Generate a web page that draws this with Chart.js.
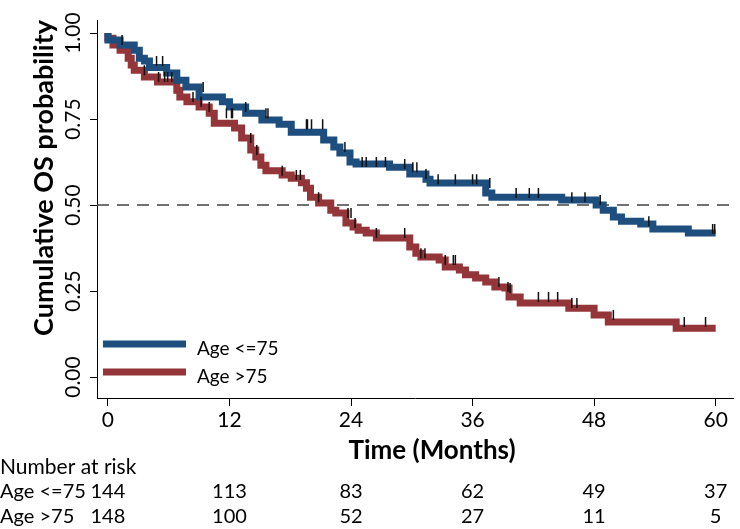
<!DOCTYPE html>
<html><head><meta charset="utf-8">
<script src="https://cdn.jsdelivr.net/npm/chart.js@4/dist/chart.umd.min.js"></script>
<style>html,body{margin:0;padding:0;background:#fff}#wrap{width:740px;height:529px;position:relative}</style>
</head><body><div id="wrap"><canvas id="c"></canvas></div>
<script>
const xTickValues = [0, 12, 24, 36, 48, 60];
const yTickValues = [0, 0.25, 0.5, 0.75, 1];
const yTickLabels = ['0.00', '0.25', '0.50', '0.75', '1.00'];
const seriesNames = ['Age <=75', 'Age >75'];
const xTitle = 'Time (Months)';
const yTitle = 'Cumulative OS probability';
const riskTitle = 'Number at risk';

const lowTimes = [0,1.2,2.6,3.1,3.6,4.1,5.8,6.8,7.7,9.0,11.3,12.0,13.6,15.2,16.9,18.1,21.3,22.3,22.9,23.9,24.5,27.8,29.8,31.4,31.8,37.3,37.9,44.8,48.2,48.9,49.9,50.7,52.6,53.8,57.3,60.0];
const lowSurv = [1.0,0.98,0.965,0.95,0.927,0.919,0.90,0.884,0.863,0.843,0.814,0.80,0.785,0.767,0.747,0.735,0.712,0.689,0.669,0.651,0.625,0.619,0.61,0.59,0.575,0.564,0.535,0.523,0.515,0.50,0.485,0.465,0.453,0.445,0.43,0.419];
const lowCensorTimes = [1.4,4.8,5.4,9.4,13.6,15.6,15.8,19.6,19.7,20.1,21.2,23.4,25.1,25.5,26.5,27.4,29.3,30.1,30.5,31.4,32.6,34.3,36.0,36.4,37.7,40.3,41.6,42.5,45.8,47.1,48.6,53.4,59.7,59.9];

const highTimes = [0,0.5,1.2,2.0,2.3,2.6,3.6,4.9,6.8,7.1,7.8,9.0,10.0,10.5,12.5,13.2,14.1,14.6,15.1,15.6,17.2,18.1,19.1,19.6,20.0,20.8,22.0,22.5,23.5,24.2,24.7,25.5,26.5,29.8,30.4,30.9,32.7,33.3,34.7,35.3,36.3,37.3,38.2,39.2,39.6,40.7,45.5,48.0,49.4,56.1,60.0];
const highSurv = [1.0,0.985,0.965,0.95,0.927,0.907,0.892,0.872,0.858,0.834,0.814,0.80,0.785,0.767,0.738,0.724,0.695,0.66,0.64,0.616,0.60,0.587,0.578,0.565,0.549,0.523,0.506,0.485,0.477,0.448,0.436,0.427,0.419,0.404,0.378,0.36,0.349,0.34,0.32,0.311,0.297,0.288,0.276,0.262,0.259,0.233,0.215,0.20,0.18,0.16,0.142];
const highCensorTimes = [3.6,5.0,5.6,5.9,6.3,8.4,9.2,10.0,11.7,12.2,12.3,14.1,14.7,17.2,18.6,19.0,20.8,23.7,24.0,24.4,26.5,29.3,30.9,31.3,33.3,34.1,34.3,38.6,39.5,39.7,42.5,43.5,44.4,45.8,46.3,49.9,56.9,59.0];

const riskTimes = [0, 12, 24, 36, 48, 60];
const riskLow = [144, 113, 83, 62, 49, 37];
const riskHigh = [148, 100, 52, 27, 11, 5];
const medianLevel = 0.5;

const X_MIN = -1.078, X_MAX = 61.76, Y_MIN = -0.061, Y_MAX = 1.038;
const BLUE = '#1d4e7e', RED = '#943539';
const FONT = "Lato, 'Liberation Sans', sans-serif";

function survAt(times, surv, t) {
  let v = surv[0];
  for (let i = 0; i < times.length; i++) { if (times[i] <= t) v = surv[i]; }
  return v;
}
const pts = (ts, ss) => ts.map((t, i) => ({x: t, y: ss[i]}));
const censorPts = (cs, ts, ss) => cs.map(t => ({x: t, y: survAt(ts, ss, t)}));

const textPlugin = {
  id: 'textPlugin',
  afterDraw(chart) {
    const ctx = chart.ctx, xs = chart.scales.x, ys = chart.scales.y;
    ctx.save();
    ctx.fillStyle = '#000';
    // y tick labels (rotated)
    ctx.font = '21px ' + FONT;
    ctx.textAlign = 'center'; ctx.textBaseline = 'middle';
    yTickValues.forEach((v, i) => {
      ctx.save();
      ctx.translate(73, ys.getPixelForValue(v));
      ctx.rotate(-Math.PI / 2);
      ctx.fillText(yTickLabels[i], 0, 0);
      ctx.restore();
    });
    // y title
    ctx.save();
    ctx.font = 'bold 27px ' + FONT;
    ctx.translate(44, 178);
    ctx.rotate(-Math.PI / 2);
    ctx.fillText(yTitle, 0, 0);
    ctx.restore();
    // x title
    ctx.font = 'bold 26px ' + FONT;
    ctx.fillText(xTitle, 432, 451);
    // legend
    const legY = [344, 372];
    const cols = [BLUE, RED];
    legY.forEach((y, i) => {
      ctx.strokeStyle = cols[i]; ctx.lineWidth = 7; ctx.lineCap = 'butt';
      ctx.beginPath(); ctx.moveTo(103, y); ctx.lineTo(186, y); ctx.stroke();
      ctx.font = '19px ' + FONT; ctx.textAlign = 'left'; ctx.fillStyle = '#000';
      ctx.fillText(seriesNames[i], 197, y + 5);
    });
    // risk table
    ctx.font = '21px ' + FONT;
    ctx.textAlign = 'left';
    ctx.fillText(riskTitle, 0, 467);
    ctx.font = '20px ' + FONT;
    ctx.fillText(seriesNames[0], 0, 492);
    ctx.fillText(seriesNames[1], 0, 517);
    ctx.textAlign = 'center';
    riskTimes.forEach((t, i) => {
      const px = xs.getPixelForValue(t);
      ctx.fillText(String(riskLow[i]), px, 492);
      ctx.fillText(String(riskHigh[i]), px, 517);
    });
    ctx.restore();
  }
};

new Chart(document.getElementById('c'), {
  type: 'line',
  data: {
    datasets: [
      {label: 'censor1', data: censorPts(lowCensorTimes, lowTimes, lowSurv), showLine: false,
       pointStyle: 'line', rotation: 90, radius: 5, borderColor: '#111', borderWidth: 1.5, order: 0},
      {label: 'censor2', data: censorPts(highCensorTimes, highTimes, highSurv), showLine: false,
       pointStyle: 'line', rotation: 90, radius: 5, borderColor: '#111', borderWidth: 1.5, order: 0},
      {label: seriesNames[0], data: pts(lowTimes, lowSurv), stepped: 'after', borderColor: BLUE,
       borderWidth: 7, pointRadius: 0, fill: false, order: 1, borderCapStyle: 'butt', borderJoinStyle: 'miter'},
      {label: seriesNames[1], data: pts(highTimes, highSurv), stepped: 'after', borderColor: RED,
       borderWidth: 7, pointRadius: 0, fill: false, order: 2, borderCapStyle: 'butt', borderJoinStyle: 'miter'},
      {label: 'median', data: [{x: X_MIN, y: medianLevel}, {x: X_MAX, y: medianLevel}], borderColor: '#444',
       borderWidth: 1.5, borderDash: [12, 8], pointRadius: 0, order: 3}
    ]
  },
  options: {
    responsive: true, maintainAspectRatio: false, animation: false, devicePixelRatio: 1,
    layout: {padding: {left: 0, right: 2, top: 20, bottom: 0}},
    plugins: {legend: {display: false}, tooltip: {enabled: false}},
    scales: {
      x: {type: 'linear', min: X_MIN, max: X_MAX,
          afterBuildTicks: s => { s.ticks = xTickValues.map(v => ({value: v})); },
          afterFit: s => { s.height = 131; },
          grid: {display: true, drawOnChartArea: false, drawTicks: true, tickLength: 8, color: '#000', lineWidth: 1},
          border: {display: true, color: '#000', width: 1},
          ticks: {color: '#000', font: {family: FONT, size: 21}, padding: 2, maxRotation: 0, autoSkip: false}},
      y: {type: 'linear', min: Y_MIN, max: Y_MAX,
          afterBuildTicks: s => { s.ticks = yTickValues.map(v => ({value: v})); },
          afterFit: s => { s.width = 97; },
          grid: {display: true, drawOnChartArea: false, drawTicks: true, tickLength: 7, color: '#000', lineWidth: 1},
          border: {display: true, color: '#000', width: 1},
          ticks: {color: 'rgba(0,0,0,0)', font: {family: FONT, size: 19}}}
    }
  },
  plugins: [textPlugin]
});
</script></body></html>
